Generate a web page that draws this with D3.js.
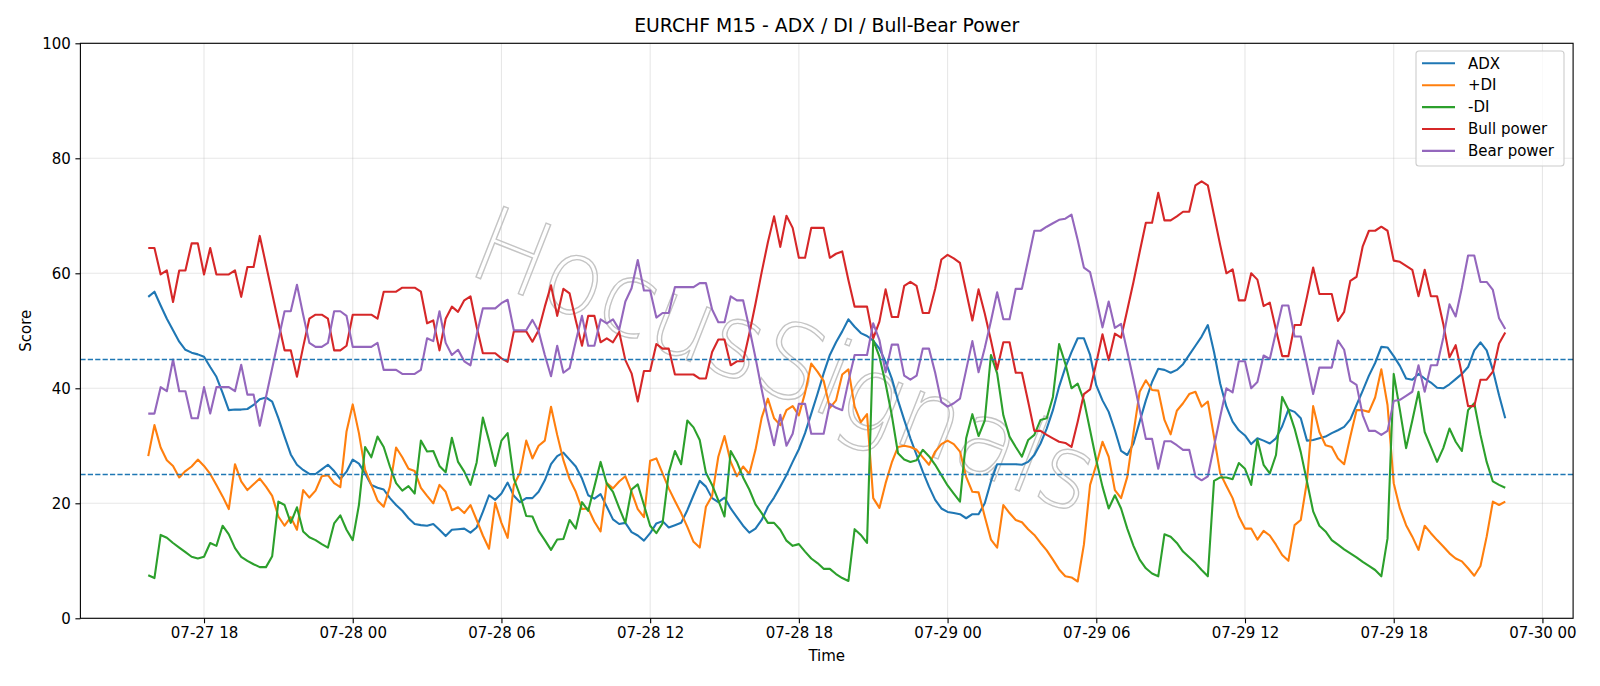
<!DOCTYPE html>
<html>
<head>
<meta charset="utf-8">
<script src="https://cdn.jsdelivr.net/npm/d3@7"></script>
<style>
  body { margin: 0; background: #fff; }
  svg { font-family: "DejaVu Sans", sans-serif; }
</style>
</head>
<body>
<svg id="chart" width="1600" height="686"></svg>
<script>
// EURCHF M15 bars, first bar and spacing
const START_TIME = "2025-07-27T15:45:00Z";
const STEP_MINUTES = 15;

const adx = [55.9,56.8,54.4,52.1,50.1,48.1,46.7,46.2,45.9,45.5,43.7,42.0,39.2,36.2,36.3,36.3,36.4,37.1,38.1,38.4,
  37.7,34.8,31.6,28.5,26.7,25.8,25.1,25.1,25.9,26.7,25.6,24.2,25.5,27.6,26.9,25.2,23.2,22.7,22.4,20.9,
  19.7,18.7,17.4,16.4,16.2,16.1,16.4,15.4,14.3,15.4,15.5,15.6,14.9,15.8,18.5,21.4,20.6,21.7,23.6,21.3,
  20.2,20.9,20.9,22.0,24.0,26.8,28.2,28.8,27.6,26.4,24.3,21.4,20.8,21.6,19.4,17.2,16.4,16.6,15.0,14.4,
  13.5,14.8,16.5,16.9,15.8,16.2,16.6,18.8,21.4,23.9,22.9,20.9,20.2,21.0,19.1,17.6,16.1,14.9,15.6,17.1,
  19.4,21.0,22.9,24.9,27.2,29.4,32.2,35.6,39.0,42.6,45.8,48.0,49.9,52.0,50.7,49.6,49.1,48.3,46.9,44.6,
  41.7,37.9,34.5,31.3,28.4,25.5,22.9,20.6,19.1,18.5,18.3,18.1,17.4,18.1,18.1,20.0,23.8,26.8,26.8,26.8,
  26.8,26.7,27.2,28.4,30.4,33.0,36.2,40.3,43.6,46.3,48.7,48.7,45.8,40.5,37.9,35.9,32.7,29.1,28.4,30.4,
  34.2,37.9,41.1,43.4,43.2,42.7,43.2,44.2,45.8,47.4,49.0,51.0,46.3,40.8,36.8,34.2,32.7,31.8,30.3,31.3,
  30.9,30.4,31.3,33.4,36.3,35.9,34.8,30.9,31.0,31.3,31.6,32.2,32.7,33.3,34.6,37.1,39.6,42.2,44.4,47.2,
  47.1,45.6,43.9,41.7,41.5,42.5,41.7,41.0,40.1,40.0,40.7,41.6,42.5,43.7,46.6,48.0,46.6,43.2,38.8,34.8];

const plusDI = [28.2,33.6,29.7,27.5,26.5,24.5,25.6,26.4,27.6,26.5,25.1,23.2,21.2,19.0,26.8,23.8,22.3,23.3,24.3,22.9,
  21.3,17.7,16.1,17.6,15.4,22.3,21.0,22.2,24.7,24.9,23.5,22.8,32.5,37.2,32.2,25.8,23.2,20.5,19.4,22.9,
  29.7,28.0,26.0,25.6,22.7,21.3,20.0,23.2,22.0,18.8,19.3,18.3,19.7,17.1,14.4,12.1,20.1,16.6,14.0,23.2,
  25.3,30.9,27.8,30.0,30.9,36.8,31.9,27.5,24.2,22.0,19.0,19.1,16.8,15.1,23.5,22.6,23.8,24.7,22.0,19.0,
  17.6,27.4,27.8,25.2,22.6,20.4,18.3,15.9,13.3,12.3,19.4,21.3,28.1,31.7,27.2,24.7,26.4,25.1,29.3,34.9,
  38.2,34.8,33.6,36.2,36.9,35.3,39.2,44.3,42.9,41.3,36.6,37.9,42.4,43.3,36.8,34.1,35.5,20.9,19.2,23.5,
  27.1,29.8,30.0,29.8,29.3,28.0,26.7,29.0,30.3,30.9,30.3,29.0,24.6,22.0,21.9,17.7,13.7,12.3,19.7,18.3,
  17.1,16.7,15.5,14.5,13.1,11.8,10.2,8.5,7.3,7.1,6.4,12.8,23.2,26.7,30.7,28.1,22.3,20.9,24.6,32.2,
  39.4,41.4,39.7,39.6,34.5,32.0,36.1,37.4,39.0,39.4,36.8,37.7,31.6,25.2,23.0,20.9,17.7,15.6,15.6,13.7,
  15.2,14.4,12.8,11.0,10.0,16.2,17.1,23.8,36.9,32.4,30.1,29.8,27.8,26.8,31.6,36.2,36.2,35.9,38.4,43.3,
  37.1,23.5,19.1,16.2,14.2,11.9,16.1,14.8,13.6,12.5,11.3,10.4,9.9,8.7,7.4,9.1,14.2,20.3,19.7,20.3];

const minusDI = [7.5,7.0,14.5,14.0,13.1,12.3,11.5,10.7,10.4,10.7,13.1,12.6,16.1,14.6,12.2,10.7,10.0,9.4,8.9,8.9,
  10.8,20.3,19.7,16.6,19.3,15.1,14.1,13.6,12.9,12.3,16.5,17.9,15.4,13.6,19.7,29.8,28.0,31.6,29.8,26.4,
  23.5,22.2,23.0,21.7,30.9,29.0,29.1,26.5,25.4,31.4,27.2,25.5,23.2,27.1,34.9,30.9,26.5,30.9,32.2,24.3,
  21.4,17.8,17.7,15.2,13.6,11.9,13.7,13.8,17.1,15.6,20.2,18.7,22.9,27.2,23.4,22.0,19.2,16.6,22.4,23.3,
  19.7,16.1,14.8,16.5,25.3,29.1,26.8,34.4,33.2,31.0,25.3,23.2,20.5,17.7,29.1,27.2,24.5,22.4,19.8,18.3,
  16.6,16.6,15.4,13.5,12.6,12.9,11.6,10.4,9.6,8.6,8.6,7.7,7.0,6.5,15.5,14.5,13.1,48.4,45.5,40.8,
  35.3,28.7,27.6,27.2,27.5,29.3,28.2,26.7,24.9,23.1,21.7,20.3,31.3,35.5,31.7,34.4,45.8,42.6,35.3,31.6,
  29.8,28.1,31.0,31.9,34.5,34.8,38.5,47.7,44.3,40.0,40.8,37.9,32.7,27.5,22.9,19.1,21.4,19.1,15.6,12.6,
  10.2,8.7,7.8,7.3,14.6,14.2,13.1,11.6,10.6,9.6,8.4,7.3,23.9,24.5,24.5,24.2,27.0,26.0,23.2,31.1,
  26.7,25.2,28.4,38.5,36.3,33.0,28.9,23.8,18.6,16.1,15.1,13.6,12.8,12.0,11.3,10.6,9.8,9.1,8.4,7.3,
  13.9,42.5,36.2,29.6,34.4,39.4,32.4,29.8,27.2,29.6,33.0,30.7,29.1,36.2,37.4,31.9,27.2,23.8,23.2,22.7];

const bullPower = [64.4,64.4,59.8,60.5,55.0,60.5,60.5,65.2,65.2,59.8,64.4,59.8,59.8,59.8,60.5,55.9,61.1,61.1,66.5,61.5,
  56.5,51.5,46.6,46.6,42.0,47.2,52.1,52.8,52.8,52.1,46.6,46.6,47.4,52.8,52.8,52.8,52.8,52.1,56.8,56.8,
  56.8,57.5,57.5,57.5,56.8,51.3,51.8,46.6,52.1,54.2,53.3,55.3,56.0,50.7,46.1,46.1,46.1,45.2,44.6,49.9,
  49.9,49.9,48.1,50.1,54.2,57.9,52.6,57.3,56.5,51.8,47.4,52.6,52.6,48.0,48.7,48.0,49.8,44.9,42.6,37.7,
  43.0,43.0,47.7,46.9,46.9,42.4,42.4,42.4,42.4,41.7,41.7,46.3,48.5,48.5,44.0,44.7,44.7,49.5,54.7,60.2,
  65.4,69.9,64.6,70.0,67.9,62.7,62.7,67.9,67.9,67.9,62.7,63.4,63.8,58.8,54.2,54.2,54.2,48.7,51.6,57.2,
  52.4,52.4,57.8,58.5,57.8,53.1,53.1,57.3,62.4,63.2,62.6,61.8,56.8,51.8,57.2,53.0,48.3,43.3,48.0,48.0,
  42.7,42.7,37.7,32.6,32.6,31.9,31.3,30.7,30.5,29.8,34.2,39.0,39.8,44.4,49.4,44.9,49.5,48.8,53.6,58.5,
  63.7,68.8,68.8,74.0,69.2,69.2,69.9,70.7,70.7,75.3,76.0,75.3,70.1,64.9,60.0,60.7,55.3,55.3,60.0,58.9,
  54.3,54.9,50.2,45.6,45.6,51.0,51.0,55.9,61.0,56.4,56.4,56.4,51.7,53.3,58.7,59.4,64.7,67.4,67.4,68.1,
  67.4,62.2,62.0,61.3,60.6,56.0,60.6,56.0,56.0,51.2,45.4,47.5,42.5,36.9,36.9,41.5,41.5,42.9,47.8,49.7];

const bearPower = [35.6,35.6,40.2,39.5,45.0,39.5,39.5,34.8,34.8,40.2,35.6,40.2,40.2,40.2,39.5,44.1,38.9,38.9,33.5,38.5,
  43.5,48.5,53.4,53.4,58.0,52.8,47.9,47.2,47.2,47.9,53.4,53.4,52.6,47.2,47.2,47.2,47.2,47.9,43.2,43.2,
  43.2,42.5,42.5,42.5,43.2,48.7,48.2,53.4,47.9,45.8,46.7,44.7,44.0,49.3,53.9,53.9,53.9,54.8,55.4,50.1,
  50.1,50.1,51.9,49.9,45.8,42.1,47.4,42.7,43.5,48.2,52.6,47.4,47.4,52.0,51.3,52.0,50.2,55.1,57.4,62.3,
  57.0,57.0,52.3,53.1,53.1,57.6,57.6,57.6,57.6,58.3,58.3,53.7,51.5,51.5,56.0,55.3,55.3,50.5,45.3,39.8,
  34.6,30.1,35.4,30.0,32.1,37.3,37.3,32.1,32.1,32.1,37.3,36.6,36.2,41.2,45.8,45.8,45.8,51.3,48.4,42.8,
  47.6,47.6,42.2,41.5,42.2,46.9,46.9,42.7,37.6,36.8,37.4,38.2,43.2,48.2,42.8,47.0,51.7,56.7,52.0,52.0,
  57.3,57.3,62.3,67.4,67.4,68.1,68.7,69.3,69.5,70.2,65.8,61.0,60.2,55.6,50.6,55.1,50.5,51.2,46.4,41.5,
  36.3,31.2,31.2,26.0,30.8,30.8,30.1,29.3,29.3,24.7,24.0,24.7,29.9,35.1,40.0,39.3,44.7,44.7,40.0,41.1,
  45.7,45.1,49.8,54.4,54.4,49.0,49.0,44.1,39.0,43.6,43.6,43.6,48.3,46.7,41.3,40.6,35.3,32.6,32.6,31.9,
  32.6,37.8,38.0,38.7,39.4,44.0,39.4,44.0,44.0,48.8,54.6,52.5,57.5,63.1,63.1,58.5,58.5,57.1,52.2,50.3];

const seriesNames = ["ADX", "+DI", "-DI", "Bull power", "Bear power"];
const seriesColors = ["#1f77b4", "#ff7f0e", "#2ca02c", "#d62728", "#9467bd"];
const levels = [45, 25];
const yTicks = [0, 20, 40, 60, 80, 100];

const W = 1600, H = 686;
const plot = { left: 80.4, right: 1573.1, top: 43.3, bottom: 618.3 };

const t0 = Date.parse(START_TIME);
const times = adx.map((_, i) => new Date(t0 + i * STEP_MINUTES * 60000));
const span = times[times.length - 1] - times[0];

const x = d3.scaleUtc()
    .domain([new Date(+times[0] - span * 0.05), new Date(+times[times.length - 1] + span * 0.05)])
    .range([plot.left, plot.right]);
const y = d3.scaleLinear().domain([0, 100]).range([plot.bottom, plot.top]);

const svg = d3.select("#chart");
svg.append("rect").attr("width", W).attr("height", H).attr("fill", "#fff");

const xTicks = x.ticks(d3.utcHour.every(6));

// grid
const grid = svg.append("g").attr("stroke", "#b0b0b0").attr("stroke-opacity", 0.3).attr("stroke-width", 1.1);
grid.selectAll(".gx").data(xTicks).join("line")
    .attr("x1", d => x(d)).attr("x2", d => x(d))
    .attr("y1", plot.top).attr("y2", plot.bottom);
grid.selectAll(".gy").data(yTicks).join("line")
    .attr("x1", plot.left).attr("x2", plot.right)
    .attr("y1", d => y(d)).attr("y2", d => y(d));

// watermark
svg.append("text")
    .attr("transform", "translate(785,360) rotate(21.5)")
    .attr("text-anchor", "middle")
    .attr("dominant-baseline", "central")
    .attr("font-size", 104)
    .attr("font-weight", 300)
    .attr("textLength", 660)
    .attr("lengthAdjust", "spacingAndGlyphs")
    .attr("fill", "none")
    .attr("stroke", "#c4c4c4")
    .attr("stroke-width", 1.4)
    .text("HocusSignals");

// series
const line = d3.line().x((d, i) => x(times[i])).y(d => y(d));
const allSeries = [adx, plusDI, minusDI, bullPower, bearPower];
svg.append("g").selectAll("path")
    .data(allSeries)
    .join("path")
    .attr("d", d => line(d))
    .attr("fill", "none")
    .attr("stroke", (d, i) => seriesColors[i])
    .attr("stroke-width", 2.1)
    .attr("stroke-linejoin", "round");

// threshold lines
svg.append("g").selectAll("line")
    .data(levels)
    .join("line")
    .attr("x1", plot.left).attr("x2", plot.right)
    .attr("y1", d => y(d)).attr("y2", d => y(d))
    .attr("stroke", "#1f77b4")
    .attr("stroke-width", 1.4)
    .attr("stroke-dasharray", "5.2,2.2");

// axes
const xAxis = svg.append("g")
    .attr("transform", `translate(0,${plot.bottom})`)
    .call(d3.axisBottom(x).tickValues(xTicks).tickFormat(d3.utcFormat("%m-%d %H")).tickSize(5).tickPadding(4.5));
const yAxis = svg.append("g")
    .attr("transform", `translate(${plot.left},0)`)
    .call(d3.axisLeft(y).tickValues(yTicks).tickSize(5).tickPadding(4.5));
[xAxis, yAxis].forEach(g => {
    g.select(".domain").remove();
    g.selectAll("line").attr("stroke", "#000").attr("stroke-width", 1.1);
    g.selectAll("text").attr("font-size", 15).attr("font-family", "DejaVu Sans").attr("fill", "#000");
});

svg.append("rect")
    .attr("x", plot.left).attr("y", plot.top)
    .attr("width", plot.right - plot.left).attr("height", plot.bottom - plot.top)
    .attr("fill", "none").attr("stroke", "#000").attr("stroke-width", 1.1);

// titles
svg.append("text").attr("x", (plot.left + plot.right) / 2).attr("y", 32)
    .attr("text-anchor", "middle").attr("font-size", 18.8).text("EURCHF M15 - ADX / DI / Bull-Bear Power");
svg.append("text").attr("x", (plot.left + plot.right) / 2).attr("y", 661)
    .attr("text-anchor", "middle").attr("font-size", 15).text("Time");
svg.append("text").attr("transform", `translate(25.5,${(plot.top + plot.bottom) / 2}) rotate(-90)`)
    .attr("text-anchor", "middle").attr("dominant-baseline", "central").attr("font-size", 15).text("Score");

// legend
const legend = svg.append("g").attr("transform", "translate(1416,51)");
legend.append("rect").attr("width", 148).attr("height", 115).attr("rx", 3)
    .attr("fill", "#fff").attr("fill-opacity", 0.8).attr("stroke", "#cccccc").attr("stroke-width", 1.1);
const items = legend.selectAll("g.item").data(seriesNames).join("g")
    .attr("transform", (d, i) => `translate(0,${12.3 + i * 21.9})`);
items.append("line").attr("x1", 6).attr("x2", 39)
    .attr("stroke", (d, i) => seriesColors[i]).attr("stroke-width", 2.1);
items.append("text").attr("x", 52).attr("dy", "0.35em").attr("font-size", 15).text(d => d);
</script>
</body>
</html>
